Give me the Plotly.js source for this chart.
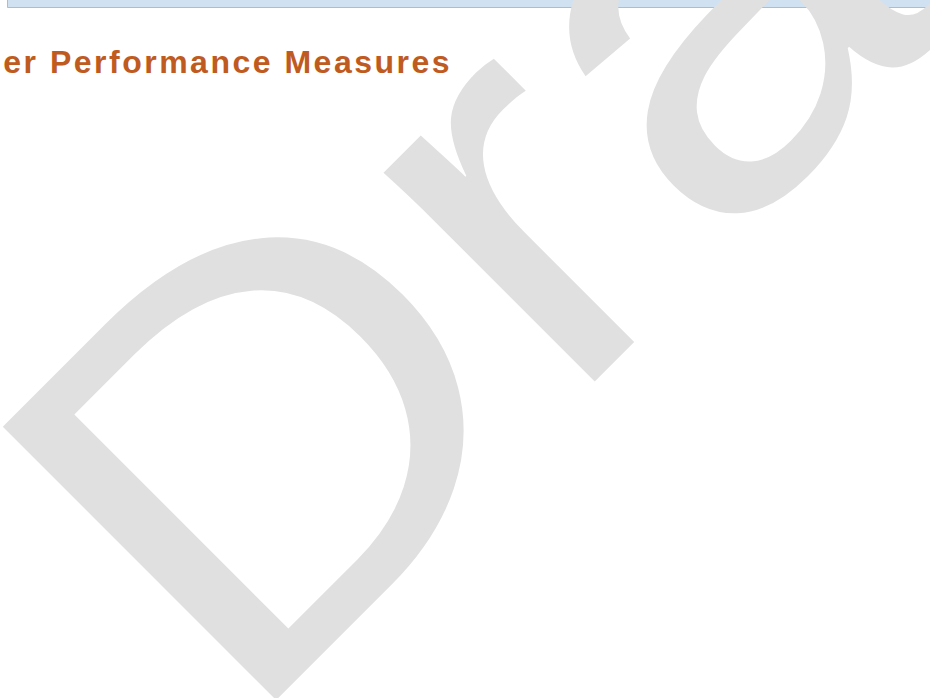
<!DOCTYPE html>
<html>
<head>
<meta charset="utf-8">
<script src="https://cdn.plot.ly/plotly-3.0.1.min.js"></script>
<style>
  html, body { margin: 0; padding: 0; background: #ffffff; }
  #chart { width: 930px; height: 698px; }
  .heading-text .annotation-text { letter-spacing: 2.5px; }
</style>
</head>
<body>
<div id="chart"></div>
<script>
// Page content (text only, no data series on this page)
const headingText = ["er Performance Measures"];
const watermarkText = ["Draft"];
const headingColor = "#bf5b21";
const watermarkColor = "#e0e0e0";
const barFill = "#d0e1f2";
const barLine = "#a9bdd3";
const watermarkStretch = 1.13;

const layout = {
  width: 930,
  height: 698,
  margin: {l: 0, r: 0, t: 0, b: 0},
  paper_bgcolor: "#ffffff",
  plot_bgcolor: "#ffffff",
  showlegend: false,
  xaxis: {range: [0, 930], visible: false, fixedrange: true},
  yaxis: {range: [698, 0], visible: false, fixedrange: true},
  shapes: [
    {type: "rect", xref: "x", yref: "y", x0: 7.5, x1: 940, y0: -5, y1: 7.5,
     fillcolor: barFill, line: {color: barLine, width: 1}, layer: "above"}
  ],
  annotations: [
    {text: watermarkText[0], xref: "x", yref: "y", x: 588.5, y: 112,
     xanchor: "center", yanchor: "middle", textangle: -45, showarrow: false,
     font: {family: "Liberation Sans, Arial, sans-serif", size: 562, color: watermarkColor}},
    {text: headingText[0], xref: "x", yref: "y", x: 227, y: 62,
     xanchor: "center", yanchor: "middle", showarrow: false,
     font: {family: "Liberation Sans, Arial, sans-serif", size: 32, color: headingColor, weight: "bold"}}
  ]
};

Plotly.newPlot("chart", [], layout, {displayModeBar: false, staticPlot: true}).then(function () {
  const anns = document.querySelectorAll(".annotation");
  if (anns.length > 1) anns[1].classList.add("heading-text");
  // stretch the watermark text along its baseline
  const wm = anns[0] && anns[0].querySelector(".annotation-text");
  if (wm) {
    const bb = wm.getBBox();
    const cx = bb.x + bb.width / 2, cy = bb.y + bb.height / 2;
    wm.setAttribute("transform",
      "translate(" + cx + "," + cy + ") scale(" + watermarkStretch + ",1) translate(" + (-cx) + "," + (-cy) + ")");
  }
});
</script>
</body>
</html>
